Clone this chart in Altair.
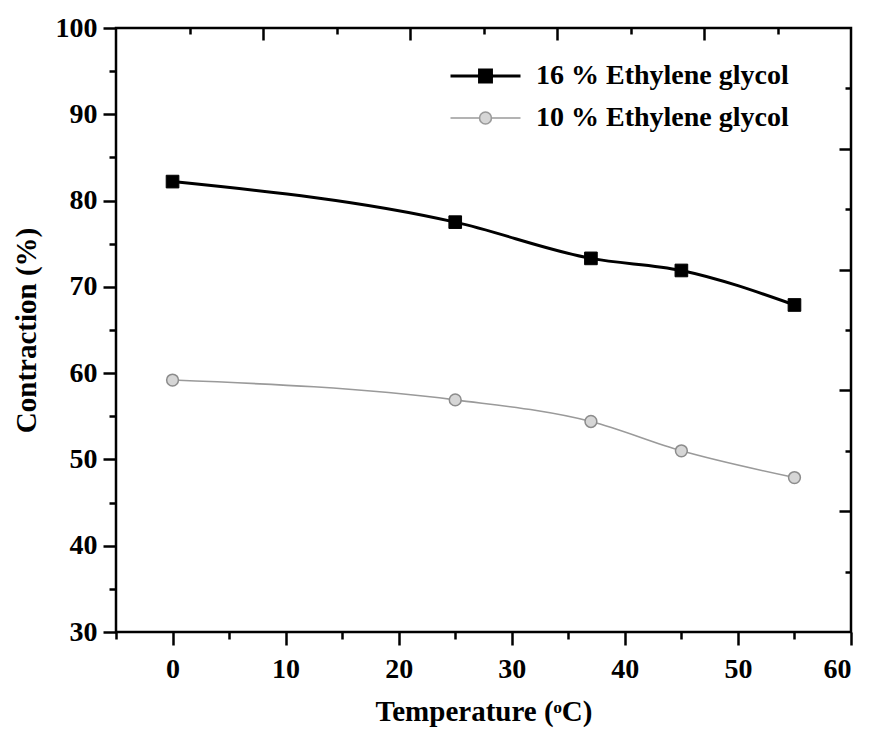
import altair as alt
import pandas as pd

# ---- data ----
temperature = [0, 25, 37, 45, 55]
contraction_16 = [82.2, 77.5, 73.3, 71.9, 67.9]
contraction_10 = [59.2, 56.9, 54.4, 51.0, 47.9]
series_names = ["16 % Ethylene glycol", "10 % Ethylene glycol"]

line_colors = ["#000000", "#9a9a9a"]
line_widths = [3.0, 1.6]
point_fills = ["#000000", "#d6d6d6"]
point_strokes = ["#000000", "#8c8c8c"]

x_ticks = list(range(-5, 61, 5))
y_ticks = list(range(30, 101, 5))
mirror_ticks = list(range(1, 10))

rows = []
for t, a, b in zip(temperature, contraction_16, contraction_10):
    rows.append({"Temperature": t, "Contraction": a, "Series": series_names[0]})
    rows.append({"Temperature": t, "Contraction": b, "Series": series_names[1]})
df = pd.DataFrame(rows)

FONT = "Liberation Serif"
S16 = series_names[0]

sq_path = "M-1,0H1M-0.17,-0.17H0.17V0.17H-0.17Z"
ci_path = "M-1,0H-0.17M0.17,0H1M-0.17,0A0.17,0.17,0,1,1,0.17,0A0.17,0.17,0,1,1,-0.17,0Z"

x_main = alt.X(
    "Temperature:Q",
    scale=alt.Scale(domain=[-5, 60], nice=False, zero=False),
    axis=alt.Axis(
        title="Temperature (ᵒC)",
        values=x_ticks,
        labelExpr="datum.value % 10 === 0 ? datum.label : ''",
        tickSize=alt.ExprRef("datum.value % 10 === 0 ? 13 : 7"),
        labelPadding=10,
        titlePadding=14,
    ),
)
y_main = alt.Y(
    "Contraction:Q",
    scale=alt.Scale(domain=[30, 100], nice=False, zero=False),
    axis=alt.Axis(
        title="Contraction (%)",
        values=y_ticks,
        labelExpr="datum.value % 10 === 0 ? datum.label : ''",
        tickSize=alt.ExprRef("datum.value % 10 === 0 ? 13 : 7"),
        labelPadding=6,
        titlePadding=14,
    ),
)

lines = alt.Chart(df).mark_line(interpolate="monotone").encode(
    x=x_main,
    y=y_main,
    color=alt.Color(
        "Series:N",
        scale=alt.Scale(domain=series_names, range=line_colors),
        legend=alt.Legend(
            title=None,
            orient="none",
            legendX=333,
            legendY=38,
            padding=0,
            symbolSize=4900,
            clipHeight=20,
            rowPadding=14,
            labelOffset=14,
            symbolType=alt.ExprRef(
                f"datum.value === '{S16}' ? '{sq_path}' : '{ci_path}'"
            ),
            symbolFillColor=alt.ExprRef(
                f"datum.value === '{S16}' ? '{point_fills[0]}' : '{point_fills[1]}'"
            ),
            symbolStrokeWidth=alt.ExprRef(
                f"datum.value === '{S16}' ? {line_widths[0]} : {line_widths[1]}"
            ),
            labelFont=FONT,
            labelFontSize=28,
            labelFontWeight="bold",
            labelColor="black",
            labelLimit=400,
        ),
    ),
    strokeWidth=alt.StrokeWidth(
        "Series:N",
        scale=alt.Scale(domain=series_names, range=line_widths),
        legend=None,
    ),
)

points16 = alt.Chart(df).transform_filter(
    alt.datum.Series == series_names[0]
).mark_point(shape="square", filled=True, fill=point_fills[0], stroke=point_strokes[0],
             strokeWidth=1, size=160, opacity=1).encode(
    x="Temperature:Q", y="Contraction:Q"
)
points10 = alt.Chart(df).transform_filter(
    alt.datum.Series == series_names[1]
).mark_point(shape="circle", filled=True, fill=point_fills[1], stroke=point_strokes[1],
             strokeWidth=1.5, size=140, opacity=1).encode(
    x="Temperature:Q", y="Contraction:Q"
)

main = alt.layer(lines, points16, points10)

helper = alt.Chart(df).mark_point(opacity=0).encode(
    x=alt.XDatum(
        5,
        type="quantitative",
        scale=alt.Scale(domain=[0, 10], nice=False, zero=False),
        axis=alt.Axis(
            orient="top", values=mirror_ticks, labels=False, title=None, domain=False,
            tickSize=alt.ExprRef("datum.value % 2 === 0 ? -12 : -6"),
        ),
    ),
    y=alt.YDatum(
        5,
        type="quantitative",
        scale=alt.Scale(domain=[0, 10], nice=False, zero=False),
        axis=alt.Axis(
            orient="right", values=mirror_ticks, labels=False, title=None, domain=False,
            tickSize=alt.ExprRef("datum.value % 2 === 0 ? -12 : -6"),
        ),
    ),
)

chart = (
    alt.layer(main, helper)
    .resolve_scale(x="independent", y="independent")
    .properties(width=735, height=604, background="white",
                padding={"left": 4, "top": 6, "right": 10, "bottom": 4})
    .configure_view(stroke="black", strokeWidth=2.5)
    .configure_axis(
        domain=False,
        grid=False,
        tickColor="black",
        tickWidth=2.5,
        labelFont=FONT,
        labelFontSize=28,
        labelFontWeight="bold",
        labelColor="black",
        titleFont=FONT,
        titleFontSize=29,
        titleFontWeight="bold",
        titleColor="black",
    )
)

chart.save("out.html", embed_options={"renderer": "svg", "actions": False})
